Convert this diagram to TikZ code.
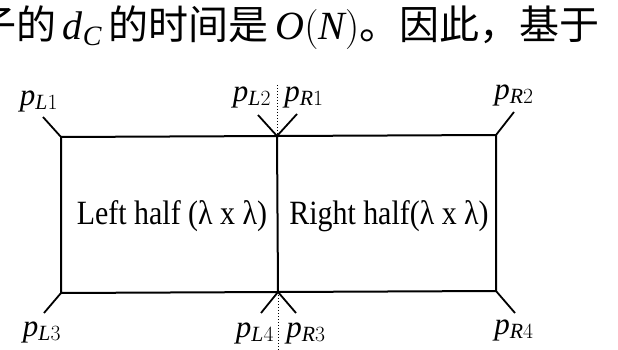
\RequirePackage{fix-cm}
\documentclass[tikz,border=0pt]{standalone}
\usepackage{fontspec}
\setmainfont{Liberation Serif}
\newfontfamily\cjk{Noto Sans CJK SC}
\newfontfamily\narrowserif[FakeStretch=0.88]{Liberation Serif}
\newcommand{\pt}[2]{$\mathit{p}_{\mathit{#1}#2}$}

\begin{document}
\begin{tikzpicture}[x=1pt,y=-1pt,
  edge/.style={line width=2pt},
  tick/.style={line width=1.8pt},
  split/.style={line width=1pt,dotted},
  lab/.style={inner sep=0pt,font=\fontsize{31}{33}\selectfont},
  half/.style={inner sep=0pt,font=\narrowserif\fontsize{34}{36}\selectfont}]
\clip (0,0) rectangle (618,350);
\node[anchor=base west,inner sep=0pt,font=\cjk\fontsize{40}{44}\selectfont] (line) at (-24,40) {子的\,$\mathit{d}_{\mathit{C}}$\,的时间是\,$\mathit{O}(\mathit{N})$。因此，基于};
\coordinate (tl) at (61,137); \coordinate (tm) at (277,136); \coordinate (tr) at (496,135);
\coordinate (bl) at (61,293); \coordinate (bm) at (278,292); \coordinate (br) at (496,291);
\draw[edge] (tl) -- (tr) -- (br) -- (bl) -- cycle; \draw[edge] (tm) -- (bm);
\coordinate (topend) at (277,85); \coordinate (botend) at (278,350);
\draw[split] (topend) -- (tm); \draw[split] (bm) -- (botend);
\coordinate (tlx) at (43,117); \coordinate (tmlx) at (258,115); \coordinate (tmrx) at (297,114); \coordinate (trx) at (514,112);
\coordinate (blx) at (44,313); \coordinate (bmlx) at (261,313); \coordinate (bmrx) at (296,313); \coordinate (brx) at (515,313);
\draw[tick] (tl) -- (tlx); \draw[tick] (tm) -- (tmlx); \draw[tick] (tm) -- (tmrx); \draw[tick] (tr) -- (trx);
\draw[tick] (bl) -- (blx); \draw[tick] (bm) -- (bmlx); \draw[tick] (bm) -- (bmrx); \draw[tick] (br) -- (brx);
\node[lab] (pl1) at (39,101) {\pt{L}{1}};
\node[lab] (pl2) at (252,97) {\pt{L}{2}};
\node[lab] (pr1) at (304,97) {\pt{R}{1}};
\node[lab] (pr2) at (514,95) {\pt{R}{2}};
\node[lab] (pl3) at (42,332) {\pt{L}{3}};
\node[lab] (pl4) at (255,333) {\pt{L}{4}};
\node[lab] (pr3) at (306,333) {\pt{R}{3}};
\node[lab] (pr4) at (514,330) {\pt{R}{4}};
\node[half] (left) at (172,216) {Left half (λ x λ)};
\node[half] (right) at (389,216) {Right half(λ x λ)};
\end{tikzpicture}
\end{document}
